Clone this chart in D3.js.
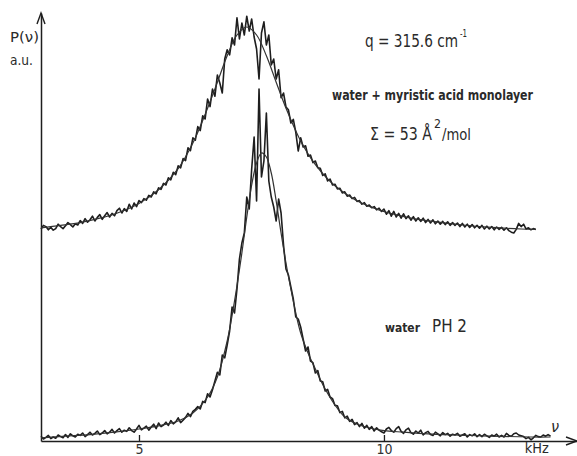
<!DOCTYPE html>
<html><head><meta charset="utf-8">
<script src="https://cdn.jsdelivr.net/npm/d3@7"></script>
<style>
html,body{margin:0;padding:0;background:#fff;}
svg{display:block;}
</style></head><body>
<svg id="chart" width="577" height="456"></svg>
<script>
// ---- data (frequency in kHz, P(ν) in arbitrary units) ----
const freqStart = 3.0;    // first sample of the recorded spectra
const freqStep = 0.05;    // sampling step of the recorded spectra

// water + myristic acid monolayer (upper trace), 3.00 .. 13.10 kHz
const upperSignal = [
  53.0,53.9,53.6,52.8,53.4,52.7,53.1,54.2,53.6,53.1,
  53.8,54.6,54.1,53.5,54.3,54.0,55.1,54.4,55.6,54.7,
  55.3,56.2,55.0,55.9,56.6,55.4,56.3,57.1,56.0,56.9,
  56.3,57.6,58.2,57.0,58.1,57.4,59.2,58.0,59.5,58.6,
  60.1,59.6,60.6,60.2,61.4,61.0,62.3,61.8,63.3,62.9,
  64.4,64.0,65.8,65.3,67.2,66.6,68.8,68.3,70.6,70.1,
  73.3,72.6,75.8,75.2,78.6,77.6,81.3,80.5,85.5,83.6,
  88.0,86.2,91.5,89.5,87.0,95.5,97.8,96.5,100.8,99.0,
  105.8,100.5,104.5,101.5,106.2,102.5,105.5,101.0,98.0,90.5,
  102.0,104.8,99.0,101.5,94.0,95.5,90.5,92.8,85.8,87.0,
  83.5,82.8,79.5,80.4,77.2,72.5,75.8,73.5,73.8,71.2,
  71.5,69.6,70.0,68.3,68.2,66.4,66.8,65.0,65.5,64.0,
  64.2,63.0,63.2,62.0,62.3,61.2,61.5,60.6,60.9,59.9,
  60.1,59.2,59.6,58.7,59.0,58.3,58.6,57.8,58.2,57.4,
  58.0,56.7,57.6,56.2,57.4,56.0,56.9,55.7,56.8,55.6,
  56.3,55.2,56.1,55.0,55.8,54.9,55.7,54.6,55.4,54.5,
  55.3,54.3,55.0,54.2,54.9,54.1,54.8,53.9,54.6,53.9,
  54.5,53.6,54.4,53.5,54.2,53.4,54.1,53.3,53.9,53.2,
  53.9,53.0,53.7,53.0,53.6,52.8,53.5,52.9,53.4,52.7,
  53.3,52.6,52.2,52.0,52.9,54.4,53.6,54.2,53.0,53.3,
  52.8,53.1,52.9
];

// water pH 2 (lower trace), 3.00 .. 13.40 kHz
const lowerSignal = [
  1.2,0.5,0.9,1.4,0.6,1.0,0.7,1.5,1.1,0.8,
  1.6,0.9,1.8,1.3,1.0,1.7,1.4,2.0,1.1,1.6,
  2.2,1.5,1.9,2.5,1.6,2.0,2.6,1.8,2.2,2.9,
  2.0,2.6,3.1,2.2,2.7,2.4,3.3,2.6,2.2,3.0,
  3.9,2.8,3.2,3.7,2.7,3.5,4.2,3.1,4.5,3.6,
  4.0,4.7,3.9,5.1,4.3,4.8,5.8,4.6,5.2,5.9,
  6.9,6.1,7.4,7.9,8.6,8.0,9.9,9.6,11.8,11.0,
  12.8,15.0,17.2,16.5,21.5,20.8,24.0,27.5,33.5,32.0,
  38.0,45.5,49.5,52.0,61.0,58.0,68.0,76.0,60.0,88.0,
  66.0,70.0,82.0,65.0,61.0,58.5,55.0,60.5,57.0,49.0,
  43.0,41.5,38.5,35.5,31.0,30.5,28.5,25.5,22.5,23.5,
  20.0,19.6,17.0,17.6,15.0,14.8,12.5,12.9,11.0,10.6,
  8.9,8.8,7.1,7.4,5.8,6.2,4.9,5.4,4.1,4.6,
  3.6,4.4,3.2,3.9,2.9,3.6,2.5,3.3,2.7,2.3,
  2.0,3.0,3.4,2.6,2.2,3.1,3.6,2.4,1.9,2.8,
  3.2,2.1,1.7,2.5,2.0,2.7,1.5,2.1,2.4,1.6,
  1.4,2.2,1.8,1.3,2.1,1.6,1.9,1.2,1.7,1.5,
  1.9,1.2,1.5,1.8,1.0,1.6,1.3,1.8,1.1,1.6,
  1.1,1.7,1.3,0.9,1.5,1.2,1.7,1.0,1.4,1.0,
  1.9,1.4,1.2,1.8,2.0,1.5,1.3,1.1,0.6,0.9,
  0.3,0.8,1.4,1.1,1.0,1.5,1.2,1.6,1.2
];

// fitted curves
const fitUpperFreq = [3.0,3.4,3.8,4.2,4.6,5.0,5.4,5.8,6.1,6.4,6.6,6.8,7.0,7.2,7.4,7.6,7.8,8.0,8.3,8.6,9.0,9.4,9.8,10.2,10.6,11.0,11.6,12.2,12.8,13.1];
const fitUpperVal  = [53.3,53.9,54.6,55.7,57.2,59.4,62.8,68.1,74.5,83.2,89.7,96.3,101.5,103.5,101.5,96.3,89.7,83.2,75.0,69.1,63.8,60.4,58.2,56.7,55.6,54.9,54.0,53.4,53.0,52.9];

const fitLowerFreq = [3.0,3.5,4.0,4.5,5.0,5.4,5.8,6.1,6.4,6.6,6.8,6.95,7.1,7.2,7.3,7.4,7.5,7.6,7.7,7.8,7.9,8.0,8.1,8.2,8.3,8.45,8.6,8.8,9.0,9.2,9.5,9.9,10.4,11.0,12.0,13.0,13.4];
const fitLowerVal  = [0.8,1.2,1.6,2.2,3.0,3.8,5.0,7.0,11.0,16.0,25.0,35.0,47.0,56.0,64.0,69.5,72.0,71.0,67.0,60.0,52.0,44.5,38.0,32.0,27.0,22.0,18.0,13.0,9.0,6.0,4.0,2.8,2.2,1.7,1.3,1.0,1.0];

const xTicks = [5, 10];
const xUnit = "kHz";

// ---- drawing ----
const svg = d3.select("#chart");
const ink = "#1e1e1e";
const F = "'DejaVu Sans Condensed','Liberation Sans Narrow',sans-serif";
const x = d3.scaleLinear().domain([3, 13.94]).range([41, 577]);
const y = d3.scaleLinear().domain([0, 107]).range([441, 13]);

const lineSig = d3.line()
  .x((d, i) => x(freqStart + i * freqStep))
  .y(d => y(d));
const lineFit = d3.line()
  .x(d => x(d[0])).y(d => y(d[1]))
  .curve(d3.curveCatmullRom.alpha(0.5));

// axes
const gx = svg.append("g").attr("transform", `translate(0,${y(0)})`)
  .call(d3.axisBottom(x).tickValues(xTicks).tickFormat(d => d)
    .tickSizeInner(-6).tickSizeOuter(0).tickPadding(3));
gx.select(".domain").attr("stroke", ink).attr("stroke-width", 1.5);
gx.selectAll(".tick line").attr("stroke", ink).attr("stroke-width", 1.3);
gx.selectAll(".tick text").attr("fill", "#333")
  .style("font-family", F).style("font-size", "14px");

const gy = svg.append("g").attr("transform", `translate(${x(3)},0)`)
  .call(d3.axisLeft(y).tickValues([]).tickSizeOuter(0));
gy.select(".domain").attr("stroke", ink).attr("stroke-width", 1.5);

// arrowheads
const xe = x.range()[1], y0 = y(0);
svg.append("path").attr("d", `M${xe-11},${y0-4}L${xe},${y0}L${xe-11},${y0+4}`)
  .attr("fill", "none").attr("stroke", ink).attr("stroke-width", 1.4);
const ye = y.range()[1], x0 = x(3);
svg.append("path").attr("d", `M${x0-4},${ye+11}L${x0},${ye}L${x0+4},${ye+11}`)
  .attr("fill", "none").attr("stroke", ink).attr("stroke-width", 1.4);

// traces
svg.append("path").datum(upperSignal).attr("d", lineSig)
  .attr("fill", "none").attr("stroke", ink).attr("stroke-width", 1.6).attr("stroke-linejoin", "round");
svg.append("path").datum(lowerSignal).attr("d", lineSig)
  .attr("fill", "none").attr("stroke", ink).attr("stroke-width", 1.6).attr("stroke-linejoin", "round");
svg.append("path").datum(fitUpperFreq.map((f, i) => [f, fitUpperVal[i]])).attr("d", lineFit)
  .attr("fill", "none").attr("stroke", "#333").attr("stroke-width", 1.2);
svg.append("path").datum(fitLowerFreq.map((f, i) => [f, fitLowerVal[i]])).attr("d", lineFit)
  .attr("fill", "none").attr("stroke", "#333").attr("stroke-width", 1.2);

// texts
function label(t, px, py, size, len, opts = {}) {
  const el = svg.append("text").attr("x", px).attr("y", py)
    .attr("fill", "#2a2a2a").style("font-family", F).style("font-size", size + "px")
    .style("font-weight", opts.bold ? "bold" : "normal")
    .style("font-style", opts.italic ? "italic" : "normal")
    .text(t);
  if (len) el.attr("textLength", len).attr("lengthAdjust", "spacingAndGlyphs");
  if (opts.anchor) el.attr("text-anchor", opts.anchor);
  return el;
}
// text made of pieces [string, size, width, dx, dy]
function richLabel(parts, px, py) {
  const el = svg.append("text").attr("x", px).attr("y", py)
    .attr("fill", "#2a2a2a").style("font-family", F);
  parts.forEach(([t, size, len, dx, dy]) => {
    const ts = el.append("tspan").style("font-size", size + "px")
      .attr("dx", dx).attr("dy", dy).text(t);
    if (len) ts.attr("textLength", len).attr("lengthAdjust", "spacingAndGlyphs");
  });
  return el;
}
label("P(ν)", 10, 42, 14, 29);
label("a.u.", 10, 65, 14, 23);
richLabel([["q = 315.6 cm", 17, 93, 0, 0], ["-1", 10, 7, 2, -10]], 365, 47);
label("water + myristic acid  monolayer", 332, 100, 14, 201, {bold: true});
richLabel([["Σ = 53 Å", 18, 62, 0, 0], ["2", 12, 7, 2, -12], ["/mol", 15, 29, 1, 12]], 370, 140);
label("water", 385, 332, 13, 35, {bold: true});
label("PH 2", 432, 332, 17, 35);
label(xUnit, x(13.12), 453, 14, 24, {anchor: "middle"});
label("ν", 551, 432, 16, 0, {italic: true});
</script>
</body></html>
